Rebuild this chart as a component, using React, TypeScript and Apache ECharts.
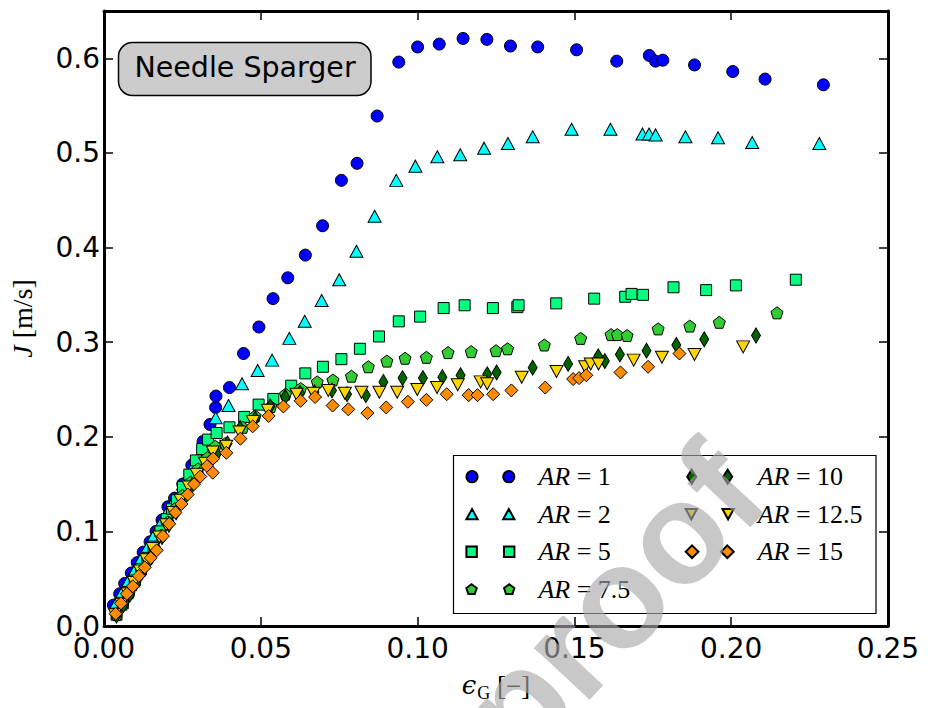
import React, { useEffect, useRef } from 'react';
import * as echarts from 'echarts';

// ---------------- data (epsilon_G, J) ----------------
const xTicks = [0, 0.05, 0.1, 0.15, 0.2, 0.25];
const yTicks = [0, 0.1, 0.2, 0.3, 0.4, 0.5, 0.6];

const seriesNames = ['AR=1', 'AR=2', 'AR=5', 'AR=7.5', 'AR=10', 'AR=12.5', 'AR=15'];

const xAR1 = [0.0030, 0.0050, 0.0066, 0.0087, 0.0106, 0.0125, 0.0147, 0.0166, 0.0185, 0.0204, 0.0225, 0.0251, 0.0280, 0.0316, 0.0338, 0.0356, 0.0357, 0.0400, 0.0445, 0.0494, 0.0539, 0.0586, 0.0642, 0.0697, 0.0757, 0.0807, 0.0871, 0.0940, 0.1000, 0.1069, 0.1145, 0.1221, 0.1296, 0.1383, 0.1507, 0.1635, 0.1739, 0.1759, 0.1782, 0.1883, 0.2005, 0.2108, 0.2294];
const yAR1 = [0.022, 0.034, 0.045, 0.056, 0.067, 0.078, 0.089, 0.100, 0.112, 0.126, 0.135, 0.150, 0.170, 0.195, 0.213, 0.231, 0.243, 0.252, 0.288, 0.316, 0.346, 0.368, 0.392, 0.423, 0.471, 0.489, 0.539, 0.596, 0.612, 0.615, 0.621, 0.620, 0.613, 0.612, 0.609, 0.597, 0.603, 0.597, 0.598, 0.593, 0.586, 0.578, 0.572];

const xAR2 = [0.0040, 0.0058, 0.0078, 0.0098, 0.0118, 0.0138, 0.0158, 0.0180, 0.0202, 0.0226, 0.0252, 0.0283, 0.0318, 0.0356, 0.0397, 0.0440, 0.0490, 0.0536, 0.0591, 0.0640, 0.0694, 0.0750, 0.0805, 0.0863, 0.0932, 0.0993, 0.1063, 0.1136, 0.1212, 0.1288, 0.1367, 0.1491, 0.1615, 0.1717, 0.1738, 0.1759, 0.1854, 0.1958, 0.2067, 0.2281];
const yAR2 = [0.025, 0.036, 0.048, 0.059, 0.071, 0.083, 0.095, 0.108, 0.121, 0.135, 0.150, 0.168, 0.190, 0.220, 0.233, 0.256, 0.270, 0.281, 0.304, 0.322, 0.344, 0.366, 0.396, 0.433, 0.471, 0.486, 0.496, 0.498, 0.505, 0.510, 0.517, 0.525, 0.525, 0.520, 0.520, 0.519, 0.517, 0.516, 0.511, 0.510];

const xAR5 = [0.0040, 0.0060, 0.0078, 0.0098, 0.0118, 0.0138, 0.0158, 0.0180, 0.0200, 0.0217, 0.0233, 0.0252, 0.0272, 0.0293, 0.0313, 0.0332, 0.0359, 0.0400, 0.0447, 0.0493, 0.0540, 0.0597, 0.0642, 0.0698, 0.0757, 0.0816, 0.0877, 0.0940, 0.1008, 0.1083, 0.1150, 0.1240, 0.1318, 0.1322, 0.1442, 0.1563, 0.1662, 0.1682, 0.1719, 0.1816, 0.1920, 0.2015, 0.2206];
const yAR5 = [0.012, 0.024, 0.036, 0.048, 0.060, 0.072, 0.084, 0.100, 0.113, 0.124, 0.133, 0.147, 0.160, 0.175, 0.187, 0.197, 0.204, 0.210, 0.221, 0.234, 0.240, 0.254, 0.267, 0.274, 0.282, 0.293, 0.306, 0.322, 0.327, 0.336, 0.339, 0.336, 0.337, 0.339, 0.341, 0.346, 0.348, 0.351, 0.350, 0.358, 0.355, 0.360, 0.366];

const xAR7_5 = [0.0040, 0.0060, 0.0080, 0.0100, 0.0120, 0.0140, 0.0160, 0.0182, 0.0204, 0.0226, 0.0250, 0.0276, 0.0300, 0.0330, 0.0355, 0.0387, 0.0443, 0.0482, 0.0532, 0.0579, 0.0627, 0.0680, 0.0730, 0.0789, 0.0843, 0.0902, 0.0960, 0.1028, 0.1097, 0.1171, 0.1250, 0.1287, 0.1404, 0.1520, 0.1617, 0.1637, 0.1668, 0.1767, 0.1868, 0.1962, 0.2146];
const yAR7_5 = [0.012, 0.023, 0.035, 0.047, 0.059, 0.071, 0.083, 0.096, 0.110, 0.124, 0.138, 0.152, 0.166, 0.178, 0.190, 0.193, 0.210, 0.222, 0.232, 0.245, 0.251, 0.258, 0.260, 0.264, 0.274, 0.280, 0.283, 0.284, 0.289, 0.290, 0.291, 0.293, 0.297, 0.304, 0.308, 0.308, 0.307, 0.314, 0.317, 0.321, 0.331];

const xAR10 = [0.0040, 0.0062, 0.0082, 0.0102, 0.0122, 0.0143, 0.0163, 0.0185, 0.0207, 0.0230, 0.0255, 0.0280, 0.0305, 0.0335, 0.0360, 0.0394, 0.0434, 0.0482, 0.0530, 0.0578, 0.0625, 0.0671, 0.0727, 0.0775, 0.0835, 0.0891, 0.0952, 0.1017, 0.1079, 0.1137, 0.1222, 0.1252, 0.1367, 0.1480, 0.1576, 0.1597, 0.1645, 0.1730, 0.1825, 0.1914, 0.2079];
const yAR10 = [0.011, 0.022, 0.033, 0.045, 0.057, 0.069, 0.081, 0.094, 0.107, 0.120, 0.134, 0.148, 0.160, 0.172, 0.182, 0.193, 0.209, 0.219, 0.232, 0.242, 0.246, 0.247, 0.249, 0.245, 0.244, 0.258, 0.262, 0.262, 0.263, 0.265, 0.266, 0.268, 0.273, 0.277, 0.285, 0.280, 0.287, 0.291, 0.297, 0.303, 0.307];

const xAR12_5 = [0.0035, 0.0055, 0.0075, 0.0095, 0.0115, 0.0135, 0.0155, 0.0176, 0.0198, 0.0220, 0.0244, 0.0270, 0.0296, 0.0322, 0.0347, 0.0390, 0.0432, 0.0475, 0.0522, 0.0614, 0.0668, 0.0715, 0.0768, 0.0821, 0.0878, 0.0935, 0.0999, 0.1062, 0.1128, 0.1201, 0.1222, 0.1332, 0.1443, 0.1534, 0.1552, 0.1577, 0.1689, 0.1779, 0.1883, 0.2038];
const yAR12_5 = [0.012, 0.023, 0.034, 0.046, 0.058, 0.070, 0.082, 0.094, 0.107, 0.120, 0.133, 0.147, 0.160, 0.172, 0.184, 0.190, 0.205, 0.216, 0.228, 0.245, 0.246, 0.249, 0.246, 0.247, 0.247, 0.247, 0.250, 0.252, 0.255, 0.258, 0.256, 0.263, 0.269, 0.274, 0.277, 0.277, 0.281, 0.284, 0.287, 0.295];

const xAR15 = [0.0037, 0.0054, 0.0073, 0.0092, 0.0111, 0.0130, 0.0149, 0.0168, 0.0188, 0.0208, 0.0228, 0.0247, 0.0267, 0.0287, 0.0307, 0.0329, 0.0347, 0.0348, 0.0390, 0.0435, 0.0474, 0.0525, 0.0572, 0.0627, 0.0673, 0.0729, 0.0779, 0.0840, 0.0900, 0.0969, 0.1028, 0.1093, 0.1163, 0.1191, 0.1241, 0.1299, 0.1407, 0.1496, 0.1515, 0.1538, 0.1647, 0.1735, 0.1835];
const yAR15 = [0.013, 0.024, 0.034, 0.042, 0.053, 0.062, 0.072, 0.080, 0.095, 0.108, 0.120, 0.129, 0.139, 0.150, 0.158, 0.169, 0.162, 0.177, 0.183, 0.198, 0.211, 0.222, 0.232, 0.238, 0.242, 0.233, 0.229, 0.225, 0.231, 0.237, 0.239, 0.245, 0.244, 0.244, 0.245, 0.249, 0.252, 0.261, 0.262, 0.265, 0.268, 0.274, 0.288];

const xs = [xAR1, xAR2, xAR5, xAR7_5, xAR10, xAR12_5, xAR15];
const ys = [yAR1, yAR2, yAR5, yAR7_5, yAR10, yAR12_5, yAR15];

// ---------------- styling ----------------
const colors = ['#0000ff', '#00ffff', '#00ff7f', '#32cd32', '#006400', '#ffd700', '#ff8c00'];
const PENT = 'path://M0,-1L0.951,-0.309L0.588,0.809L-0.588,0.809L-0.951,-0.309Z';
const symbols = ['circle', 'triangle', 'rect', PENT, 'diamond', 'triangle', 'diamond'];
const symbolSizes: any[] = [12, [13, 12], 11, 12, [9, 15], [13, 12], [13, 13]];
const symbolRotates = [0, 0, 0, 0, 0, 180, 0];

const legendIcons = [
  'path://M0,5.5A5.5,5.5,0,1,0,11,5.5A5.5,5.5,0,1,0,0,5.5ZM36,5.5A5.5,5.5,0,1,0,47,5.5A5.5,5.5,0,1,0,36,5.5Z',
  'path://M5.5,0L11,10L0,10ZM41.5,0L47,10L36,10Z',
  'path://M0,0L10,0L10,10L0,10ZM36,0L46,0L46,10L36,10Z',
  'path://M4.95,0L9.9,3.59L8.01,9.41L1.89,9.41L0,3.59ZM40.95,0L45.9,3.59L44.01,9.41L37.89,9.41L36,3.59Z',
  'path://M4.5,0L9,7L4.5,14L0,7ZM40.5,0L45,7L40.5,14L36,7Z',
  'path://M0,0L11,0L5.5,10ZM36,0L47,0L41.5,10Z',
  'path://M6.5,0L13,6.5L6.5,13L0,6.5ZM42.5,0L49,6.5L42.5,13L36,6.5Z',
];

const SERIF = '"Liberation Serif", "DejaVu Serif", serif';
const SANS = '"DejaVu Sans", sans-serif';

function legendFormatter(name: string) {
  const v = name.split('=')[1];
  return `{s|}{i|AR}{n| = ${v}}`;
}

const legendText = {
  color: '#000',
  fontFamily: SERIF,
  fontSize: 26,
  lineHeight: 26,
  rich: {
    s: { width: 19, lineHeight: 26 },
    i: { fontStyle: 'italic', fontFamily: SERIF, fontSize: 26, lineHeight: 26, color: '#000' },
    n: { fontFamily: SERIF, fontSize: 26, lineHeight: 26, color: '#000' },
  },
};

function buildOption() {
  const series = seriesNames.map((name, i) => ({
    type: 'scatter',
    name,
    data: xs[i].map((x, k) => [x, ys[i][k]]),
    symbol: symbols[i],
    symbolSize: symbolSizes[i],
    symbolRotate: symbolRotates[i],
    itemStyle: { color: colors[i], borderColor: '#000', borderWidth: 1, opacity: 1 },
    emphasis: { disabled: true },
    z: 2 + i * 0.01,
  }));

  const legendBase = {
    orient: 'vertical',
    padding: 0,
    itemWidth: 48,
    itemHeight: 14,
    itemGap: 11.5,
    symbolRotate: 0,
    symbolKeepAspect: true,
    formatter: legendFormatter,
    textStyle: legendText,
    selectedMode: false,
    z: 6,
  };

  const axisCommon = {
    type: 'value',
    axisLine: { show: true, onZero: false, lineStyle: { color: '#000', width: 3 } },
    axisTick: { show: true, inside: true, length: 9, lineStyle: { color: '#000', width: 1.5 } },
    splitLine: { show: false },
  };

  return {
    animation: false,
    backgroundColor: '#ffffff',
    grid: { left: 100, right: 40, top: 11, bottom: 82, containLabel: false },
    xAxis: [
      {
        ...axisCommon,
        position: 'bottom',
        min: xTicks[0],
        max: xTicks[xTicks.length - 1],
        interval: 0.05,
        axisLabel: {
          show: true,
          color: '#000',
          fontFamily: SANS,
          fontSize: 28,
          margin: 8,
          formatter: (v: number) => v.toFixed(2),
        },
        name: '{e|ϵ}{g|G}{b| [−]}',
        nameLocation: 'middle',
        nameGap: 46,
        nameTextStyle: {
          color: '#000',
          rich: {
            e: { fontFamily: '"DejaVu Serif", serif', fontStyle: 'italic', fontSize: 26, lineHeight: 28, verticalAlign: 'top', color: '#000' },
            g: { fontFamily: SERIF, fontSize: 18, lineHeight: 18, padding: [14, 0, 0, 1], color: '#000' },
            b: { fontFamily: SERIF, fontSize: 27, lineHeight: 28, verticalAlign: 'top', color: '#000' },
          },
        },
      },
      {
        ...axisCommon,
        position: 'top',
        min: xTicks[0],
        max: xTicks[xTicks.length - 1],
        interval: 0.05,
        axisLabel: { show: false },
      },
    ],
    yAxis: [
      {
        ...axisCommon,
        position: 'left',
        min: yTicks[0],
        max: 0.65,
        interval: 0.1,
        axisLabel: {
          show: true,
          color: '#000',
          fontFamily: SANS,
          fontSize: 28,
          margin: 4,
          formatter: (v: number) => (v > yTicks[yTicks.length - 1] + 1e-9 ? '' : v.toFixed(1)),
        },
        name: '{j|J}{u| [m/s]}',
        nameLocation: 'middle',
        nameRotate: 90,
        nameGap: 68,
        nameTextStyle: {
          color: '#000',
          rich: {
            j: { fontFamily: SERIF, fontStyle: 'italic', fontSize: 28, color: '#000' },
            u: { fontFamily: SERIF, fontSize: 28, color: '#000' },
          },
        },
      },
      {
        ...axisCommon,
        position: 'right',
        min: yTicks[0],
        max: 0.65,
        interval: 0.1,
        axisLabel: { show: false },
      },
    ],
    legend: [
      {
        ...legendBase,
        left: 465.4,
        top: 463.7,
        data: seriesNames.slice(0, 4).map((n, i) => ({ name: n, icon: legendIcons[i] })),
      },
      {
        ...legendBase,
        left: 684.7,
        top: 463.7,
        data: seriesNames.slice(4).map((n, i) => ({ name: n, icon: legendIcons[i + 4] })),
      },
    ],
    graphic: [
      {
        type: 'rect',
        z: 5,
        silent: true,
        shape: { x: 453.5, y: 455.5, width: 422.5, height: 158 },
        style: { fill: '#ffffff', stroke: '#000', lineWidth: 1.2 },
      },
      {
        type: 'rect',
        z: 5,
        silent: true,
        shape: { x: 118.5, y: 42.5, width: 252.5, height: 53, r: 14 },
        style: { fill: '#cccccc', stroke: '#000', lineWidth: 1.5 },
      },
      {
        type: 'text',
        z: 6,
        silent: true,
        x: 245,
        y: 67,
        style: {
          text: 'Needle Sparger',
          fontFamily: SANS,
          fontSize: 28.5,
          fill: '#000',
          align: 'center',
          verticalAlign: 'middle',
        },
      },
      {
        type: 'text',
        z: 100,
        silent: true,
        x: 612,
        y: 603,
        rotation: (47 * Math.PI) / 180,
        style: {
          text: 'proof',
          fontFamily: '"Liberation Sans", sans-serif',
          fontWeight: 'bold',
          fontSize: 144,
          fill: 'rgba(168,168,168,0.635)',
          align: 'center',
          verticalAlign: 'middle',
        },
      },
    ],
    series,
  };
}

export default function App() {
  const ref = useRef<HTMLDivElement>(null);
  useEffect(() => {
    if (!ref.current) return;
    const chart = echarts.init(ref.current, null, { renderer: 'svg' });
    chart.setOption(buildOption() as any);
    return () => chart.dispose();
  }, []);
  return (
    <div
      ref={ref}
      style={{ position: 'fixed', left: 0, top: 0, width: 928, height: 708, background: '#fff' }}
    />
  );
}
